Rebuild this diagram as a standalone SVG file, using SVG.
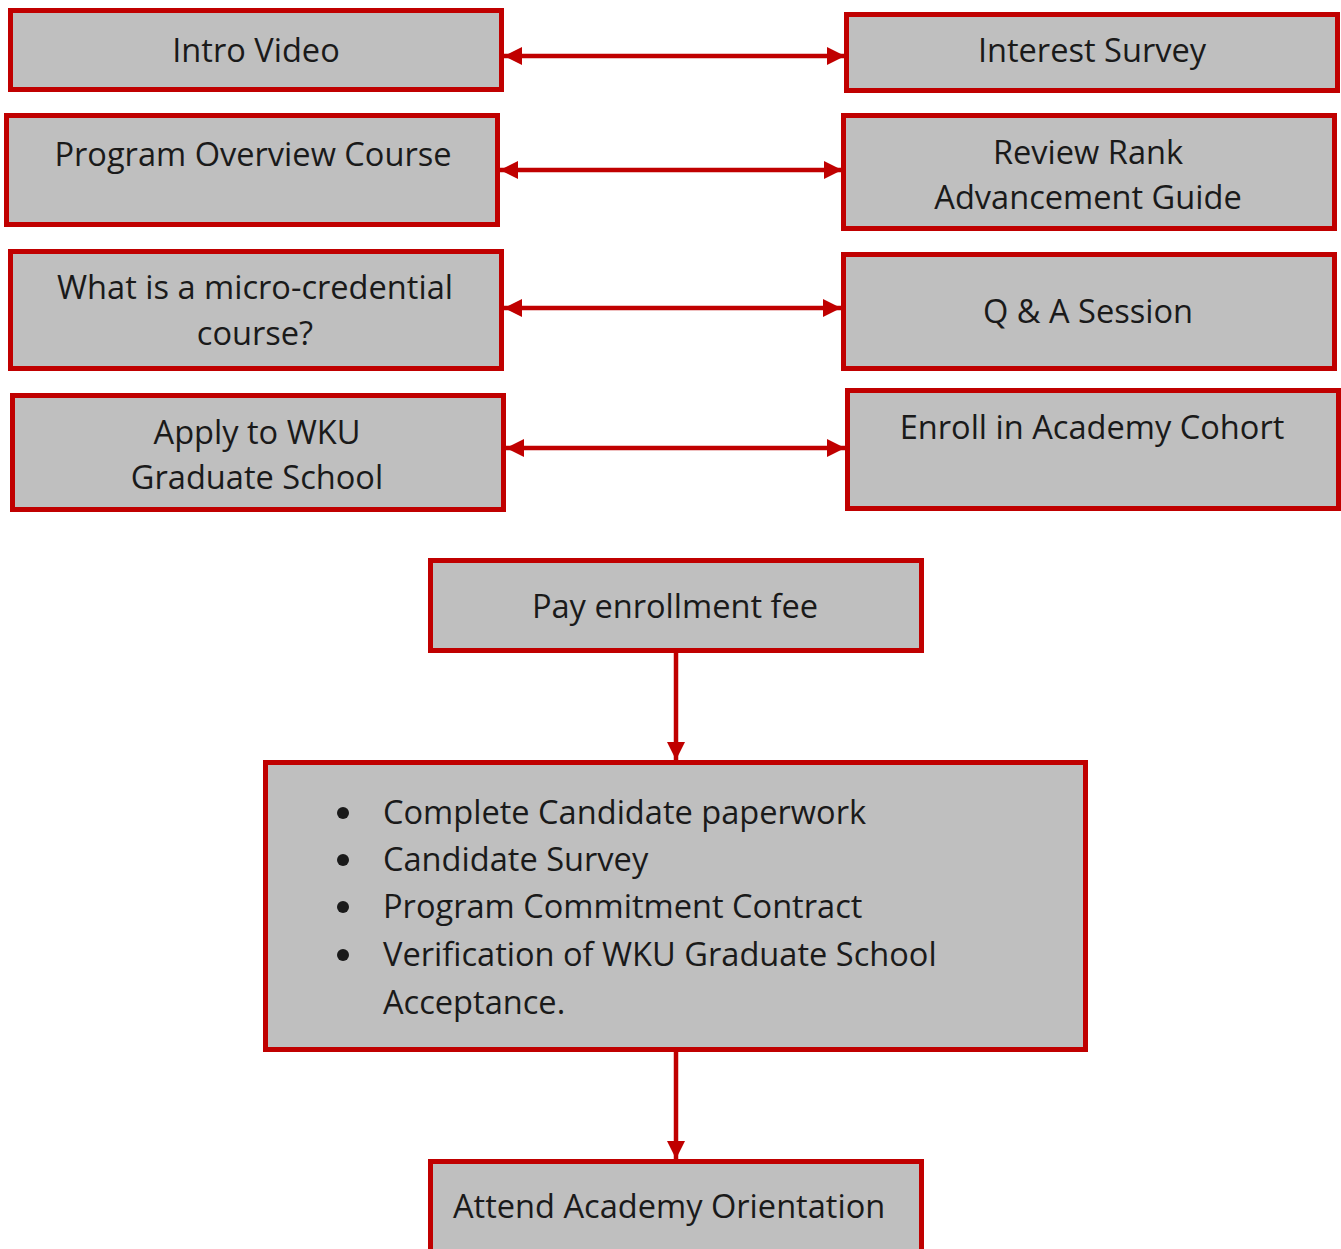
<svg xmlns="http://www.w3.org/2000/svg" width="1341" height="1249" viewBox="0 0 1341 1249">
<style>
.box{fill:#BFBFBF;stroke:#C00000;stroke-width:5}
.t{font-family:"Open Sans","Noto Sans",sans-serif;font-size:32.6px;fill:#1a1a1a}
.c{text-anchor:middle}
.con{stroke:#C00000;stroke-width:4.5;fill:none}
</style>
<defs>
<marker id="ah" viewBox="0 0 18 18" refX="18" refY="9" markerWidth="18" markerHeight="18" markerUnits="userSpaceOnUse" orient="auto-start-reverse">
<path d="M0,0 L18,9 L0,18 z" fill="#C00000"/>
</marker>
</defs>
<rect width="1341" height="1249" fill="#ffffff"/>
<g id="connectors">
<line class="con" x1="504" y1="56" x2="845" y2="56" marker-start="url(#ah)" marker-end="url(#ah)"/>
<line class="con" x1="500" y1="170" x2="842" y2="170" marker-start="url(#ah)" marker-end="url(#ah)"/>
<line class="con" x1="504" y1="308" x2="841" y2="308" marker-start="url(#ah)" marker-end="url(#ah)"/>
<line class="con" x1="506" y1="448" x2="845" y2="448" marker-start="url(#ah)" marker-end="url(#ah)"/>
<line class="con" x1="676" y1="653" x2="676" y2="760" marker-end="url(#ah)"/>
<line class="con" x1="676" y1="1052" x2="676" y2="1159" marker-end="url(#ah)"/>
</g>
<g id="intro-video">
<rect class="box" x="10.5" y="10.5" width="491" height="79"/>
<text class="t c" x="256" y="62">Intro Video</text>
</g>
<g id="interest-survey">
<rect class="box" x="846.5" y="14.5" width="491" height="76"/>
<text class="t c" x="1092" y="62">Interest Survey</text>
</g>
<g id="program-overview">
<rect class="box" x="6.5" y="115.5" width="491" height="109"/>
<text class="t c" x="253" y="166">Program Overview Course</text>
</g>
<g id="review-rank">
<rect class="box" x="843.5" y="115.5" width="491" height="113"/>
<text class="t c" x="1088" y="164">Review Rank</text>
<text class="t c" x="1088" y="209">Advancement Guide</text>
</g>
<g id="micro-credential">
<rect class="box" x="10.5" y="251.5" width="491" height="117"/>
<text class="t c" x="255" y="299">What is a micro-credential</text>
<text class="t c" x="255" y="345">course?</text>
</g>
<g id="qa-session">
<rect class="box" x="843.5" y="254.5" width="491" height="114"/>
<text class="t c" x="1088" y="323">Q &amp; A Session</text>
</g>
<g id="apply-wku">
<rect class="box" x="12.5" y="395.5" width="491" height="114"/>
<text class="t c" x="257" y="444">Apply to WKU</text>
<text class="t c" x="257" y="489">Graduate School</text>
</g>
<g id="enroll-cohort">
<rect class="box" x="847.5" y="390.5" width="491" height="118"/>
<text class="t c" x="1092" y="439">Enroll in Academy Cohort</text>
</g>
<g id="pay-fee">
<rect class="box" x="430.5" y="560.5" width="491" height="90"/>
<text class="t c" x="675" y="618">Pay enrollment fee</text>
</g>
<g id="paperwork">
<rect class="box" x="265.5" y="762.5" width="820" height="287"/>
<circle cx="343" cy="813" r="6" fill="#1a1a1a"/>
<circle cx="343" cy="860" r="6" fill="#1a1a1a"/>
<circle cx="343" cy="907" r="6" fill="#1a1a1a"/>
<circle cx="343" cy="955" r="6" fill="#1a1a1a"/>
<text class="t" x="383" y="824">Complete Candidate paperwork</text>
<text class="t" x="383" y="871">Candidate Survey</text>
<text class="t" x="383" y="918">Program Commitment Contract</text>
<text class="t" x="383" y="966">Verification of WKU Graduate School</text>
<text class="t" x="383" y="1014">Acceptance.</text>
</g>
<g id="orientation">
<rect class="box" x="430.5" y="1161.5" width="491" height="100"/>
<text class="t" x="453" y="1218">Attend Academy Orientation</text>
</g>
</svg>
